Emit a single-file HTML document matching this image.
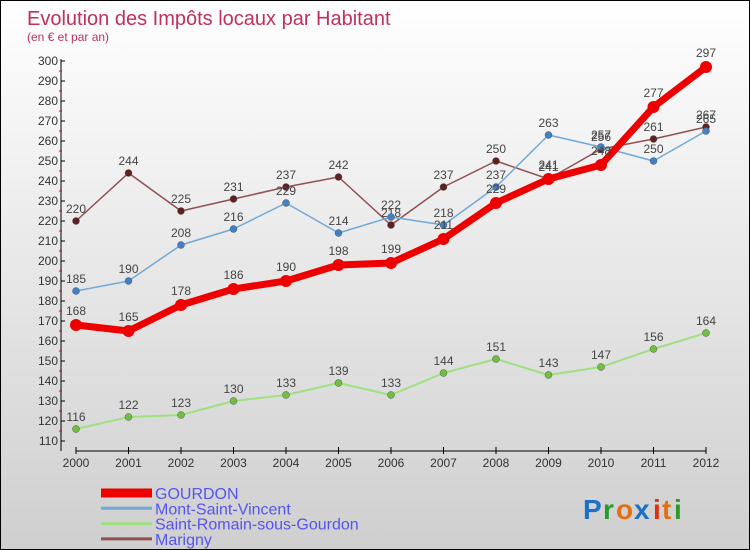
<!DOCTYPE html>
<html><head><meta charset="utf-8">
<style>
html,body{margin:0;padding:0}
body{width:750px;height:550px;overflow:hidden;font-family:"Liberation Sans",sans-serif}
#wrap{position:relative;width:748px;height:548px;border:1px solid #000;background:linear-gradient(#fff,#cfcfcf)}
svg{position:absolute;left:0;top:0}
</style></head><body>
<div id="wrap">
<svg id="chart" width="748" height="548">
<text x="26" y="24" font-size="20" fill="#c0305a">Evolution des Impôts locaux par Habitant</text>
<text x="26" y="40" font-size="12" fill="#c0305a">(en € et par an)</text>
<g id="axes"></g><g id="series"></g><g id="legend"></g>
<g font-size="28" font-weight="bold">
<text x="582" y="518" fill="#1a70c8">P</text><text x="602" y="518" fill="#2a9a2a">r</text><text x="615" y="518" fill="#e07010">o</text><text x="633" y="518" fill="#1a70c8">x</text><text x="652" y="518" fill="#e03010">i</text><text x="661" y="518" fill="#e07010">t</text><text x="673" y="518" fill="#2a9a2a">i</text>
</g>
</svg>
</div>
<script>
const years=[2000,2001,2002,2003,2004,2005,2006,2007,2008,2009,2010,2011,2012];
const gourdon=[168,165,178,186,190,198,199,211,229,241,248,277,297];
const montSaintVincent=[185,190,208,216,229,214,222,218,237,263,257,250,265];
const saintRomain=[116,122,123,130,133,139,133,144,151,143,147,156,164];
const marigny=[220,244,225,231,237,242,218,237,250,241,256,261,267];
const yTicks=[110,120,130,140,150,160,170,180,190,200,210,220,230,240,250,260,270,280,290,300];
const NS='http://www.w3.org/2000/svg';
function X(i){return 75+i*52.5;}
function Y(v){return 440-(v-110)*2;}
function el(t,a,p){const e=document.createElementNS(NS,t);for(const k in a)e.setAttribute(k,a[k]);p.appendChild(e);return e;}
const ax=document.getElementById('axes');
const yAxis=el('line',{x1:60,y1:58,x2:60,y2:450,stroke:'#000'},ax);


const xAxis=el('line',{x1:75,y1:450,x2:705,y2:450,stroke:'#000'},ax);


yTicks.forEach(v=>{
 el('line',{x1:60,y1:Y(v),x2:64,y2:Y(v),stroke:'#000'},ax);
 if(v<300)el('line',{x1:58,y1:Y(v+5),x2:61,y2:Y(v+5),stroke:'#e00'},ax);
 const t=el('text',{x:57,y:Y(v)+4,'text-anchor':'end','font-size':12,fill:'#333'},ax);
 t.textContent=v;
 
 
});
years.forEach((y,i)=>{
 el('line',{x1:X(i),y1:446,x2:X(i),y2:453,stroke:'#000'},ax);
 const t=el('text',{x:X(i),y:466,'text-anchor':'middle','font-size':12,fill:'#333'},ax);
 t.textContent=y;
 
 
});
const sg=document.getElementById('series');
const series=[
 {name:'saint-romain',label:'Saint-Romain-sous-Gourdon',data:saintRomain,c:'#a0e080',pc:'#70c040',w:2,r:3.5},
 {name:'marigny',label:'Marigny',data:marigny,c:'#905050',pc:'#602020',w:1.5,r:3.5},
 {name:'mont-saint-vincent',label:'Mont-Saint-Vincent',data:montSaintVincent,c:'#70a8d8',pc:'#4080c8',w:1.5,r:3.5},
 {name:'gourdon',label:'GOURDON',data:gourdon,c:'#ee0000',pc:'#ee0000',w:7,r:6}
];
series.forEach(s=>{
 const g=el('g',{},sg);
 
 
 const pl=el('polyline',{points:s.data.map((v,i)=>X(i)+','+Y(v)).join(' '),fill:'none',stroke:s.c,'stroke-width':s.w,'stroke-linejoin':'round'},g);
 
 
 s.data.forEach((v,i)=>{
  const c=el('circle',{cx:X(i),cy:Y(v),r:s.r,fill:s.pc,stroke:'#555','stroke-width':s.w>5?0:0.5},g);
  
  
  const t=el('text',{x:X(i),y:Y(v)-(s.w>5?10:8),'text-anchor':'middle','font-size':12,fill:'#444'},g);
  t.textContent=v;
  
  
 });
});
const lg=document.getElementById('legend');
const legendOrder=[series[3],series[2],series[0],series[1]];
legendOrder.forEach((s,k)=>{
 const y=492+k*15.3;
 const g=el('g',{},lg);
 
 
 el('line',{x1:100,y1:y,x2:151,y2:y,stroke:s.c,'stroke-width':s.w>5?9:3},g);
 const t=el('text',{x:154,y:y+6,'font-size':16,fill:'#5555ee'},g);
 t.textContent=s.label;
});
</script>
</body></html>
